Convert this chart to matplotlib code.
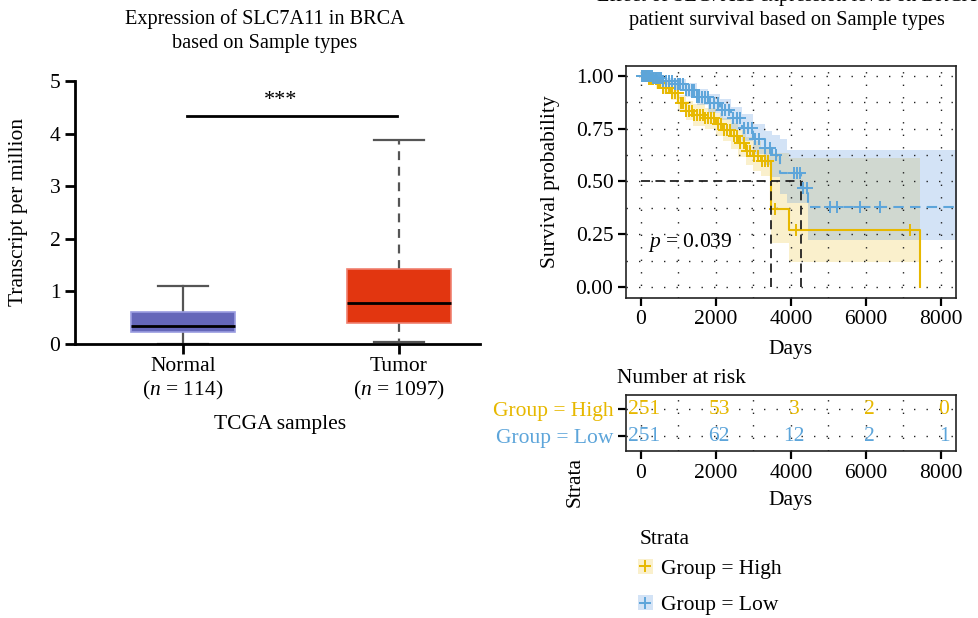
import numpy as np
import matplotlib
matplotlib.use('Agg')
from matplotlib import pyplot as plt
from matplotlib.lines import Line2D
from matplotlib.patches import Patch
from matplotlib.ticker import MultipleLocator

plt.rcParams['font.family'] = 'serif'
plt.rcParams['font.serif'] = ['Liberation Serif', 'DejaVu Serif']
plt.rcParams['mathtext.fontset'] = 'custom'
plt.rcParams['mathtext.rm'] = 'Liberation Serif'
plt.rcParams['mathtext.it'] = 'Liberation Serif:italic'

# ---- boxplot data (TPM) ----
groups = ['Normal', 'Tumor']
group_n = [114, 1097]
box_med = [0.35, 0.78]
box_q1 = [0.22, 0.40]
box_q3 = [0.60, 1.42]
box_lo = [0.0, 0.04]
box_hi = [1.10, 3.87]
box_colors = ['#6567B9', '#E23610']
box_edges = ['#9A9CE0', '#F08070']
sig_y = 4.33
sig_label = '***'

# ---- Kaplan-Meier, High group ----
high_t = [0, 200, 400, 600, 800, 1000, 1200, 1400, 1700, 2000, 2200, 2400, 2600, 2800, 3000, 3200, 3467, 3940, 7450]
high_s = [1.0, 0.985, 0.965, 0.945, 0.92, 0.87, 0.835, 0.815, 0.80, 0.77, 0.745, 0.715, 0.68, 0.645, 0.62, 0.595, 0.37, 0.27, 0.0]
high_up = [1.0, 1.0, 0.99, 0.975, 0.955, 0.91, 0.88, 0.865, 0.85, 0.825, 0.80, 0.775, 0.745, 0.71, 0.69, 0.665, 0.635, 0.61, 0.61]
high_lo = [1.0, 0.97, 0.94, 0.915, 0.885, 0.83, 0.79, 0.765, 0.75, 0.715, 0.69, 0.655, 0.615, 0.58, 0.55, 0.525, 0.21, 0.12, 0.12]
high_cens = [40, 80, 120, 170, 220, 270, 330, 390, 450, 520, 600, 680, 760, 840, 920, 990, 1060, 1130, 1200,
             1280, 1350, 1420, 1500, 1580, 1650, 1720, 1800, 1880, 1960, 2050, 2130, 2220, 2300, 2380, 2470,
             2560, 2650, 2740, 2830, 2920, 3020, 3120, 3220, 3300, 3380, 3580, 4140, 7180]
high_median = 3460

# ---- Kaplan-Meier, Low group ----
low_t = [0, 300, 600, 900, 1200, 1500, 1800, 2100, 2400, 2700, 3000, 3300, 3500, 3707, 3885, 4275, 4450, 8450]
low_s = [1.0, 0.99, 0.975, 0.96, 0.935, 0.90, 0.87, 0.84, 0.80, 0.755, 0.70, 0.66, 0.625, 0.539, 0.539, 0.468, 0.381, 0.381]
low_up = [1.0, 1.0, 0.99, 0.985, 0.965, 0.94, 0.915, 0.89, 0.855, 0.82, 0.77, 0.74, 0.72, 0.70, 0.65, 0.65, 0.65, 0.65]
low_lo = [1.0, 0.975, 0.955, 0.93, 0.90, 0.86, 0.825, 0.79, 0.745, 0.69, 0.63, 0.58, 0.52, 0.44, 0.40, 0.40, 0.223, 0.223]
low_cens = [30, 60, 90, 120, 150, 180, 210, 250, 290, 330, 380, 430, 480, 530, 600, 680, 750, 820, 900, 980,
            1050, 1120, 1200, 1280, 1350, 1420, 1500, 1560, 1620, 1700, 1780, 1850, 1950, 2050, 2150, 2250,
            2350, 2450, 2550, 2650, 2750, 2850, 2950, 3050, 3150, 3300, 3450, 3600, 4070, 4150, 4250, 4330,
            4440, 5050, 5230, 5850, 6380]
low_median = 4270
p_text = '$p$ = 0.039'

# ---- number at risk ----
risk_times = [0, 2000, 4000, 6000, 8000]
risk_high = [251, 53, 3, 2, 0]
risk_low = [251, 62, 12, 2, 1]

c_high = '#E7B800'
c_low = '#5DA5DA'
fs = 15.5
fs_title = 14.6

W, H = 979, 618
fig = plt.figure(figsize=(W / 100, H / 100), dpi=100)


def rect(l, t, r, b):
    return [l / W, 1 - b / H, (r - l) / W, (b - t) / H]


# ================= left: boxplot =================
ax = fig.add_axes(rect(75, 81, 480, 344))
stats = []
for i in range(len(groups)):
    stats.append({'med': box_med[i], 'q1': box_q1[i], 'q3': box_q3[i],
                  'whislo': box_lo[i], 'whishi': box_hi[i], 'fliers': []})
bp = ax.bxp(stats, positions=[0, 1], widths=0.48, capwidths=0.235, patch_artist=True,
            showfliers=False, manage_ticks=False)
for i, b in enumerate(bp['boxes']):
    b.set_facecolor(box_colors[i])
    b.set_edgecolor(box_edges[i])
    b.set_linewidth(1.2)
    b.set_zorder(3)
for m in bp['medians']:
    m.set_color('black')
    m.set_linewidth(2)
    m.set_zorder(4)
for j, w in enumerate(bp['whiskers']):
    w.set_color('#555555')
    w.set_linewidth(1.6)
    if j >= 2:
        w.set_linestyle((0, (4, 3)))
for c in bp['caps']:
    c.set_color('#555555')
    c.set_linewidth(1.6)

ax.plot([0.02, 0.99], [sig_y, sig_y], color='black', lw=2)
ax.text(0.45, sig_y + 0.12, sig_label, ha='center', va='bottom', fontsize=16)
ax.set_xlim(-0.5, 1.375)
ax.set_ylim(0, 5)
ax.set_xticks([0, 1])
ax.set_xticklabels(['%s\n($n$ = %d)' % (g, n) for g, n in zip(groups, group_n)], fontsize=fs, linespacing=1.2)
ax.set_yticks(range(6))
ax.tick_params(axis='both', width=2, length=7, labelsize=fs)
ax.tick_params(axis='x', pad=2)
for s in ['top', 'right']:
    ax.spines[s].set_visible(False)
for s in ['left', 'bottom']:
    ax.spines[s].set_linewidth(2)
ax.set_ylabel('Transcript per million', fontsize=fs)
ax.yaxis.set_label_coords(-0.115, 0.5)
ax.set_xlabel('TCGA samples', fontsize=fs)
ax.xaxis.set_label_coords(0.506, -0.27)
fig.text(265 / W, 1 - 31 / H, 'Expression of SLC7A11 in BRCA\nbased on Sample types',
         ha='center', va='center', fontsize=fs_title, linespacing=1.35)


# ================= right: survival curve =================
def step_at(t, s, x):
    idx = np.searchsorted(t, x, side='right') - 1
    return np.asarray(s)[idx]


def dotted_grid(a):
    a.grid(True, which='both', color='#222222', linestyle=(0, (1, 8)), linewidth=1)


sv = fig.add_axes(rect(626, 66, 956, 298))
sv.fill_between(high_t, high_lo, high_up, step='post', color=c_high, alpha=0.2, lw=0)
sv.fill_between(low_t, low_lo, low_up, step='post', color='#5393DF', alpha=0.25, lw=0)
sv.step(high_t, high_s, where='post', color=c_high, lw=1.5)
sv.step(low_t, low_s, where='post', color=c_low, lw=1.5, linestyle=(0, (5, 3)))
sv.plot(high_cens, step_at(high_t, high_s, high_cens), '+', color=c_high, ms=9, mew=1.4, ls='none')
sv.plot(low_cens, step_at(low_t, low_s, low_cens), '+', color=c_low, ms=9, mew=1.4, ls='none')

sv.plot([0, low_median], [0.5, 0.5], color='#222222', lw=1.3, ls=(0, (5, 3)))
sv.plot([high_median, high_median], [0, 0.5], color='#222222', lw=1.3, ls=(0, (5, 3)))
sv.plot([low_median, low_median], [0, 0.5], color='#222222', lw=1.3, ls=(0, (5, 3)))
sv.text(200, 0.21, p_text, fontsize=fs, va='center', ha='left')

sv.set_xlim(-400, 8400)
sv.set_ylim(-0.052, 1.047)
sv.set_xticks([0, 2000, 4000, 6000, 8000])
sv.set_yticks([0, 0.25, 0.5, 0.75, 1.0])
sv.set_yticklabels(['0.00', '0.25', '0.50', '0.75', '1.00'])
sv.xaxis.set_minor_locator(MultipleLocator(1000))
sv.yaxis.set_minor_locator(MultipleLocator(0.125))
dotted_grid(sv)
sv.tick_params(which='major', width=1.6, length=6, labelsize=fs, pad=3)
sv.tick_params(which='minor', length=0)
for s in sv.spines.values():
    s.set_linewidth(1.2)
    s.set_color('#222222')
sv.set_ylabel('Survival probability', fontsize=fs)
sv.yaxis.set_label_coords(-0.2, 0.5)
sv.set_xlabel('Days', fontsize=fs)
sv.xaxis.set_label_coords(0.5, -0.18)
fig.text(787 / W, 1 - 8 / H, 'Effect of SLC7A11 expression level on BRCA\npatient survival based on Sample types',
         ha='center', va='center', fontsize=fs_title, linespacing=1.35)

# ================= number at risk table =================
rk = fig.add_axes(rect(626, 395, 956, 451))
for x, h, l in zip(risk_times, risk_high, risk_low):
    rk.text(x + 80, 1, str(h), color=c_high, ha='center', va='center', fontsize=fs)
    rk.text(x + 80, 0, str(l), color=c_low, ha='center', va='center', fontsize=fs)
rk.set_xlim(-400, 8400)
rk.set_ylim(-0.55, 1.52)
rk.set_xticks(risk_times)
rk.xaxis.set_minor_locator(MultipleLocator(1000))
rk.set_yticks([0, 1])
rk.set_yticklabels(['Group = Low', 'Group = High'])
for lab, col in zip(rk.get_yticklabels(), [c_low, c_high]):
    lab.set_color(col)
dotted_grid(rk)
rk.grid(False, which='minor', axis='y')
rk.tick_params(which='major', width=1.6, length=6, labelsize=fs, pad=3)
rk.tick_params(which='minor', length=0)
for s in rk.spines.values():
    s.set_linewidth(1.2)
    s.set_color('#222222')
rk.set_xlabel('Days', fontsize=fs)
rk.xaxis.set_label_coords(0.5, -0.72)
rk.set_ylabel('Strata', fontsize=fs)
rk.yaxis.set_label_coords(-0.125, -0.55)
rk.text(-0.027, 1.30, 'Number at risk', transform=rk.transAxes, ha='left', va='center', fontsize=fs)

# ================= legend =================
fig.text(640 / W, 1 - 539 / H, 'Strata', ha='left', va='center', fontsize=fs)
handles = [(Patch(facecolor=c_high, alpha=0.2, lw=0), Line2D([], [], marker='+', color=c_high, ls='none', ms=9, mew=1.4)),
           (Patch(facecolor='#5393DF', alpha=0.25, lw=0), Line2D([], [], marker='+', color=c_low, ls='none', ms=9, mew=1.4))]
fig.legend(handles, ['Group = High', 'Group = Low'], fontsize=fs,
           loc='upper left', bbox_to_anchor=(627 / W, 1 - 548 / H), frameon=False,
           handlelength=0.7, handleheight=0.7, handletextpad=0.4, labelspacing=0.75, borderpad=0)

fig.savefig('out.png', dpi=100)
